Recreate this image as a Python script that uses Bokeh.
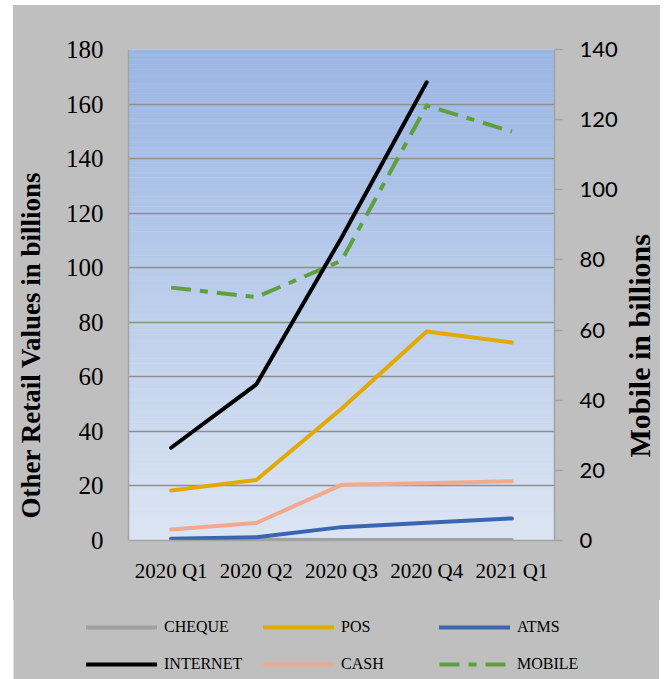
from bokeh.plotting import figure
from bokeh.layouts import row
from bokeh.models import (Range1d, LinearAxis, FactorRange, Legend, LegendItem,
                          FixedTicker, BoxAnnotation, Title)
from bokeh.embed import file_html
from bokeh.resources import INLINE

# Quarterly retail payment values (billions)
quarters = ["2020 Q1", "2020 Q2", "2020 Q3", "2020 Q4", "2021 Q1"]
cheque = [0.3, 0.3, 0.2, 0.2, 0.2]
pos = [18.3, 22.2, 48.3, 76.6, 72.6]
atms = [0.6, 1.2, 4.9, 6.5, 8.1]
internet = [34.0, 57.2, 111.0, 168.0]
cash = [4.0, 6.4, 20.4, 21.0, 21.7]
mobile = [72.1, 69.4, 79.8, 124.0, 116.6]

left_ticks = [0, 20, 40, 60, 80, 100, 120, 140, 160, 180]
right_ticks = [0, 20, 40, 60, 80, 100, 120, 140]

SERIF = "Liberation Serif"
GRID = "#8E8E8E"
AXIS = "#A3A3A3"
BG = "#BFBFBF"

styles = {
    "CHEQUE": dict(line_color="#A0A0A0", line_width=4, line_cap="round", line_join="round"),
    "POS": dict(line_color="#E3A900", line_width=4, line_cap="round", line_join="round"),
    "ATMS": dict(line_color="#3B64B2", line_width=4, line_cap="round", line_join="round"),
    "INTERNET": dict(line_color="#000000", line_width=4, line_cap="round", line_join="round"),
    "CASH": dict(line_color="#F2A98E", line_width=4, line_cap="round", line_join="round"),
    "MOBILE": dict(line_color="#5FA03E", line_width=4, line_dash="20 9 8 9",
                   line_cap="butt", line_join="round"),
}
series = {
    "CHEQUE": (quarters, cheque, "default"),
    "POS": (quarters, pos, "default"),
    "ATMS": (quarters, atms, "default"),
    "CASH": (quarters, cash, "default"),
    "MOBILE": (quarters, mobile, "mobile"),
    "INTERNET": (quarters[:len(internet)], internet, "default"),
}


def title_strip(width, text, size, offset):
    """Narrow grey strip whose left-side title reads bottom to top."""
    s = figure(
        width=width, height=595,
        x_range=Range1d(0, 1), y_range=Range1d(0, 1),
        x_axis_location=None, y_axis_location=None,
        min_border=0, min_border_left=0, min_border_right=0,
        min_border_top=44, min_border_bottom=60,
        output_backend="svg", toolbar_location=None,
        border_fill_color=BG, background_fill_color=BG,
        outline_line_color=None,
    )
    s.grid.visible = False
    s.add_layout(Title(text=text, align="left", offset=offset, standoff=0,
                       text_font=SERIF, text_font_style="bold", text_font_size=size,
                       text_color="black"), "left")
    return s


p = figure(
    x_range=FactorRange(*quarters),
    y_range=Range1d(0, 180),
    frame_width=426, frame_height=491,
    min_border_left=75, min_border_right=65,
    min_border_top=44, min_border_bottom=60,
    output_backend="svg", toolbar_location=None,
    border_fill_color=BG, background_fill_color="#DCE5F3",
    outline_line_color=None,
)
p.extra_y_ranges = {"mobile": Range1d(0, 140)}

# vertical gradient of the plotting area
n_strips = 100
top_rgb = (0x9A, 0xB6, 0xE3)
bot_rgb = (0xDC, 0xE5, 0xF3)
for i in range(n_strips):
    t = (i + 0.5) / n_strips
    c = tuple(round(b + (a - b) * t) for a, b in zip(top_rgb, bot_rgb))
    col = "#%02x%02x%02x" % c
    p.add_layout(BoxAnnotation(bottom=180 * i / n_strips, top=180 * (i + 1) / n_strips,
                               fill_color=col, fill_alpha=1.0, line_color=col,
                               line_width=1, level="image"))

# grid
p.xgrid.visible = False
p.ygrid.grid_line_color = GRID
p.ygrid.grid_line_width = 1.5

# left axis
ya = p.yaxis[0]
ya.ticker = FixedTicker(ticks=left_ticks)
ya.major_label_text_font = SERIF
ya.major_label_text_font_size = "25px"
ya.major_label_text_color = "black"
ya.major_label_standoff = 25
ya.major_tick_line_color = None
ya.major_tick_out = 0
ya.major_tick_in = 0
ya.minor_tick_line_color = None
ya.minor_tick_out = 0
ya.axis_line_color = AXIS
ya.axis_line_width = 1.5

# bottom axis
xa = p.xaxis[0]
xa.major_label_text_font = SERIF
xa.major_label_text_font_size = "21px"
xa.major_label_text_color = "black"
xa.major_label_standoff = 12
xa.major_tick_line_color = None
xa.axis_line_color = AXIS
xa.axis_line_width = 1.5

# right axis (mobile)
ra = LinearAxis(y_range_name="mobile", ticker=FixedTicker(ticks=right_ticks))
ra.major_label_text_font = "Lato"
ra.major_label_text_font_size = "22px"
ra.major_label_text_color = "black"
ra.major_label_standoff = 17
ra.major_tick_out = 8
ra.major_tick_in = 0
ra.major_tick_line_color = AXIS
ra.major_tick_line_width = 1.5
ra.minor_tick_line_color = None
ra.minor_tick_out = 0
ra.axis_line_color = AXIS
ra.axis_line_width = 1.5
p.add_layout(ra, "right")

# series
for name, (xs, ys, rng) in series.items():
    p.line(xs, ys, y_range_name=rng, **styles[name])

lt = title_strip(40, "Other Retail Values in  billions", "27px", 22)
rt = title_strip(40, "Mobile in billions", "30px", 83)

top = row(lt, p, rt, spacing=0)
top.margin = (5, 0, 0, 13)
top.styles = {"background-color": BG}

# legend strip under the chart: three columns of two entries each
lf = figure(
    width=646, height=81,
    x_range=FactorRange(*quarters), y_range=Range1d(0, 180),
    min_border=0, min_border_left=0, min_border_right=0,
    min_border_top=0, min_border_bottom=0,
    output_backend="svg", toolbar_location=None,
    border_fill_color=BG, background_fill_color=BG,
    outline_line_color=None,
)
lf.margin = (-2, 0, 0, 13)
lf.axis.visible = False
lf.grid.visible = False

key_lines = {}
for name, (xs, ys, _) in series.items():
    key_lines[name] = lf.line(xs, ys, visible=False, **styles[name])

columns = [["CHEQUE", "INTERNET"], ["POS", "CASH"], ["ATMS", "MOBILE"]]
col_x = [73, 250, 426]
for cx, names in zip(col_x, columns):
    leg = Legend(
        items=[LegendItem(label=n, renderers=[key_lines[n]]) for n in names],
        location=(cx, 5),
        orientation="vertical",
        glyph_width=71, glyph_height=20, label_height=20, spacing=17,
        padding=0, margin=0, label_standoff=7,
        border_line_color=None, background_fill_alpha=0,
        inactive_fill_alpha=0,
        label_text_font=SERIF, label_text_font_size="16px", label_text_color="black",
    )
    lf.add_layout(leg)

open("out.html", "w").write(file_html([top, lf], INLINE))
